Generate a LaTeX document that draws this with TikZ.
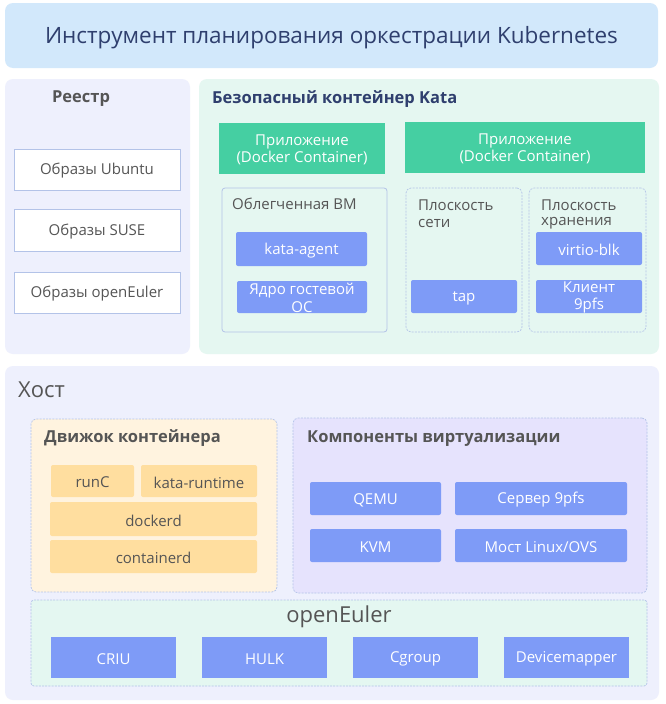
\documentclass[tikz,border=0pt]{standalone}
\usepackage{fontspec}
\setmainfont{Open Sans}
\definecolor{banner}{HTML}{D2E8FB}
\definecolor{lav}{HTML}{EEF0FD}
\definecolor{mint}{HTML}{E5F7F1}
\definecolor{appgreen}{HTML}{45CFA2}
\definecolor{bluebox}{HTML}{7E9BF7}
\definecolor{orangebox}{HTML}{FFDE9F}
\definecolor{enginebg}{HTML}{FFF3DF}
\definecolor{virtbg}{HTML}{E6E3FD}
\definecolor{oebg}{HTML}{E4F7F1}
\definecolor{bord}{HTML}{B3C3E8}
\definecolor{graytext}{HTML}{555555}
\definecolor{navy}{HTML}{2F3F6E}
\tikzset{
  sz/.style 2 args={minimum width=#1pt, minimum height=#2pt},
  base/.style={inner sep=0pt, outer sep=0pt, anchor=north west},
  panel/.style={base, rounded corners=8pt},
  dashbox/.style={base, draw=bord, line width=0.7pt, dash pattern=on 2pt off 1.2pt, rounded corners=5pt},
  whitebox/.style={base, fill=white, draw=bord, line width=0.8pt},
  vmbox/.style={base, draw=bord, line width=0.8pt, rounded corners=3pt},
  greenbox/.style={base, fill=appgreen},
  bluebx/.style={base, fill=bluebox, rounded corners=2pt},
  orangebx/.style={base, fill=orangebox, rounded corners=2pt},
  tx/.style={inner sep=0pt, align=center, font=\fontsize{15}{17.5}\selectfont, text=graytext},
  wtx/.style={tx, text=white},
  lbl/.style={inner sep=0pt, font=\fontsize{15}{18}\selectfont, text=graytext, align=left},
  ttl/.style={inner sep=0pt, font=\fontsize{16.5}{19}\selectfont\bfseries, text=graytext},
  big/.style={inner sep=0pt, font=\fontsize{22}{26}\selectfont, text=graytext},
}
\begin{document}
\begin{tikzpicture}[x=1pt,y=-1pt]
\useasboundingbox (0,0) rectangle (666,704);
\fill[white] (0,0) rectangle (666,704);

% banner
\node[panel, fill=banner, sz={653}{65}] (banner) at (5,3) {};
\node[tx, text=navy, font=\fontsize{22.5}{26}\selectfont] (bannertext) at ([yshift=-2pt]banner.center) {Инструмент планирования оркестрации Kubernetes};

% registry
\node[panel, fill=lav, sz={185}{275}] (reg) at (5,79) {};
\node[ttl] (regtitle) at (81,99) {Реестр};
\node[whitebox, sz={166}{41}] (ubuntu) at (14,149) {};
\node[tx] (ubuntuT) at ([yshift=-1.5pt]ubuntu.center) {Образы Ubuntu};
\node[whitebox, sz={166}{42}] (suse) at (14,209) {};
\node[tx] (suseT) at ([yshift=-1.5pt]suse.center) {Образы SUSE};
\node[whitebox, sz={166}{41}] (oeimg) at (14,272) {};
\node[tx] (oeimgT) at ([yshift=-1.5pt]oeimg.center) {Образы openEuler};

% kata
\node[panel, fill=mint, sz={460}{275}] (kata) at (199,79) {};
\node[ttl, text=navy, anchor=west] (katatitle) at (212,99) {Безопасный контейнер Kata};
\node[greenbox, sz={166}{51}] (app1) at (219,123) {};
\node[wtx] (app1T) at ([yshift=-1.5pt]app1.center) {Приложение\\(Docker Container)};
\node[greenbox, sz={240}{51}] (app2) at (405,122) {};
\node[wtx] (app2T) at ([yshift=-1.5pt]app2.center) {Приложение\\(Docker Container)};
\node[vmbox, sz={165}{144}] (vm) at (222,188) {};
\node[lbl, anchor=west] (vmlabel) at (232,204) {Облегченная ВМ};
\node[bluebx, sz={131}{34}] (agent) at (236,232) {};
\node[wtx] (agentT) at ([yshift=-1.5pt]agent.center) {kata-agent};
\node[bluebx, sz={130}{32}] (kernel) at (237,281) {};
\node[wtx] (kernelT) at ([yshift=-1pt]kernel.center) {Ядро гостевой\\ОС};
\node[dashbox, sz={116}{144}] (net) at (406,188) {};
\node[lbl, anchor=west] (netlabel) at (418,205) {Плоскость};
\node[lbl, anchor=west] (netlabel2) at (418,223) {сети};
\node[bluebx, sz={106}{33}] (tap) at (411,280) {};
\node[wtx] (tapT) at ([yshift=-1.5pt]tap.center) {tap};
\node[dashbox, sz={117}{144}] (stor) at (529,188) {};
\node[lbl, anchor=west] (storlabel) at (541,205) {Плоскость};
\node[lbl, anchor=west] (storlabel2) at (541,223) {хранения};
\node[bluebx, sz={106}{33}] (virtio) at (536,232) {};
\node[wtx] (virtioT) at ([yshift=-1.5pt]virtio.center) {virtio-blk};
\node[bluebx, sz={106}{33}] (client) at (536,280) {};
\node[wtx] (clientT) at ([yshift=-1pt]client.center) {Клиент\\9pfs};

% host
\node[panel, fill=lav, sz={654}{334}] (host) at (5,366) {};
\node[big, anchor=west] (hostlabel) at (18,390) {Хост};

% engine
\node[dashbox, fill=enginebg, sz={246}{173}] (engine) at (31,419) {};
\node[ttl, anchor=west] (enginetitle) at (44,438.5) {Движок контейнера};
\node[orangebx, sz={83}{32}] (runc) at (51,465) {};
\node[tx] (runcT) at ([yshift=-1.5pt]runc.center) {runC};
\node[orangebx, sz={116}{32}] (katart) at (141,465) {};
\node[tx] (katartT) at ([yshift=-1.5pt]katart.center) {kata-runtime};
\node[orangebx, sz={207}{34}] (dockerd) at (50,502) {};
\node[tx] (dockerdT) at ([yshift=-1.5pt]dockerd.center) {dockerd};
\node[orangebx, sz={207}{33}] (containerd) at (50,540) {};
\node[tx] (containerdT) at ([yshift=-1.5pt]containerd.center) {containerd};

% virtualization
\node[dashbox, fill=virtbg, sz={354}{175}] (virt) at (293,418) {};
\node[ttl, anchor=west] (virttitle) at (307,438.5) {Компоненты виртуализации};
\node[bluebx, sz={131}{33}] (qemu) at (310,482) {};
\node[wtx] (qemuT) at ([yshift=-1.5pt]qemu.center) {QEMU};
\node[bluebx, sz={172}{33}] (ninepfs) at (455,482) {};
\node[wtx] (ninepfsT) at ([yshift=-1.5pt]ninepfs.center) {Сервер 9pfs};
\node[bluebx, sz={131}{33}] (kvm) at (310,529) {};
\node[wtx] (kvmT) at ([yshift=-1.5pt]kvm.center) {KVM};
\node[bluebx, sz={172}{33}] (bridge) at (455,529) {};
\node[wtx] (bridgeT) at ([yshift=-1.5pt]bridge.center) {Мост Linux/OVS};

% openEuler
\node[dashbox, fill=oebg, sz={616}{86}, rounded corners=3pt] (oe) at (31,600) {};
\node[big] (oelabel) at (339,617) {openEuler};
\node[bluebx, rounded corners=0pt, sz={125}{41}] (criu) at (51,637) {};
\node[wtx] (criuT) at ([yshift=-1.5pt]criu.center) {CRIU};
\node[bluebx, rounded corners=0pt, sz={125}{41}] (hulk) at (202,637) {};
\node[wtx] (hulkT) at ([yshift=-1.5pt]hulk.center) {HULK};
\node[bluebx, rounded corners=0pt, sz={125}{41}] (cgroup) at (353,637) {};
\node[wtx] (cgroupT) at ([yshift=-1.5pt]cgroup.center) {Cgroup};
\node[bluebx, rounded corners=0pt, sz={125}{41}] (devmap) at (504,637) {};
\node[wtx] (devmapT) at ([yshift=-1.5pt]devmap.center) {Devicemapper};
\end{tikzpicture}
\end{document}
